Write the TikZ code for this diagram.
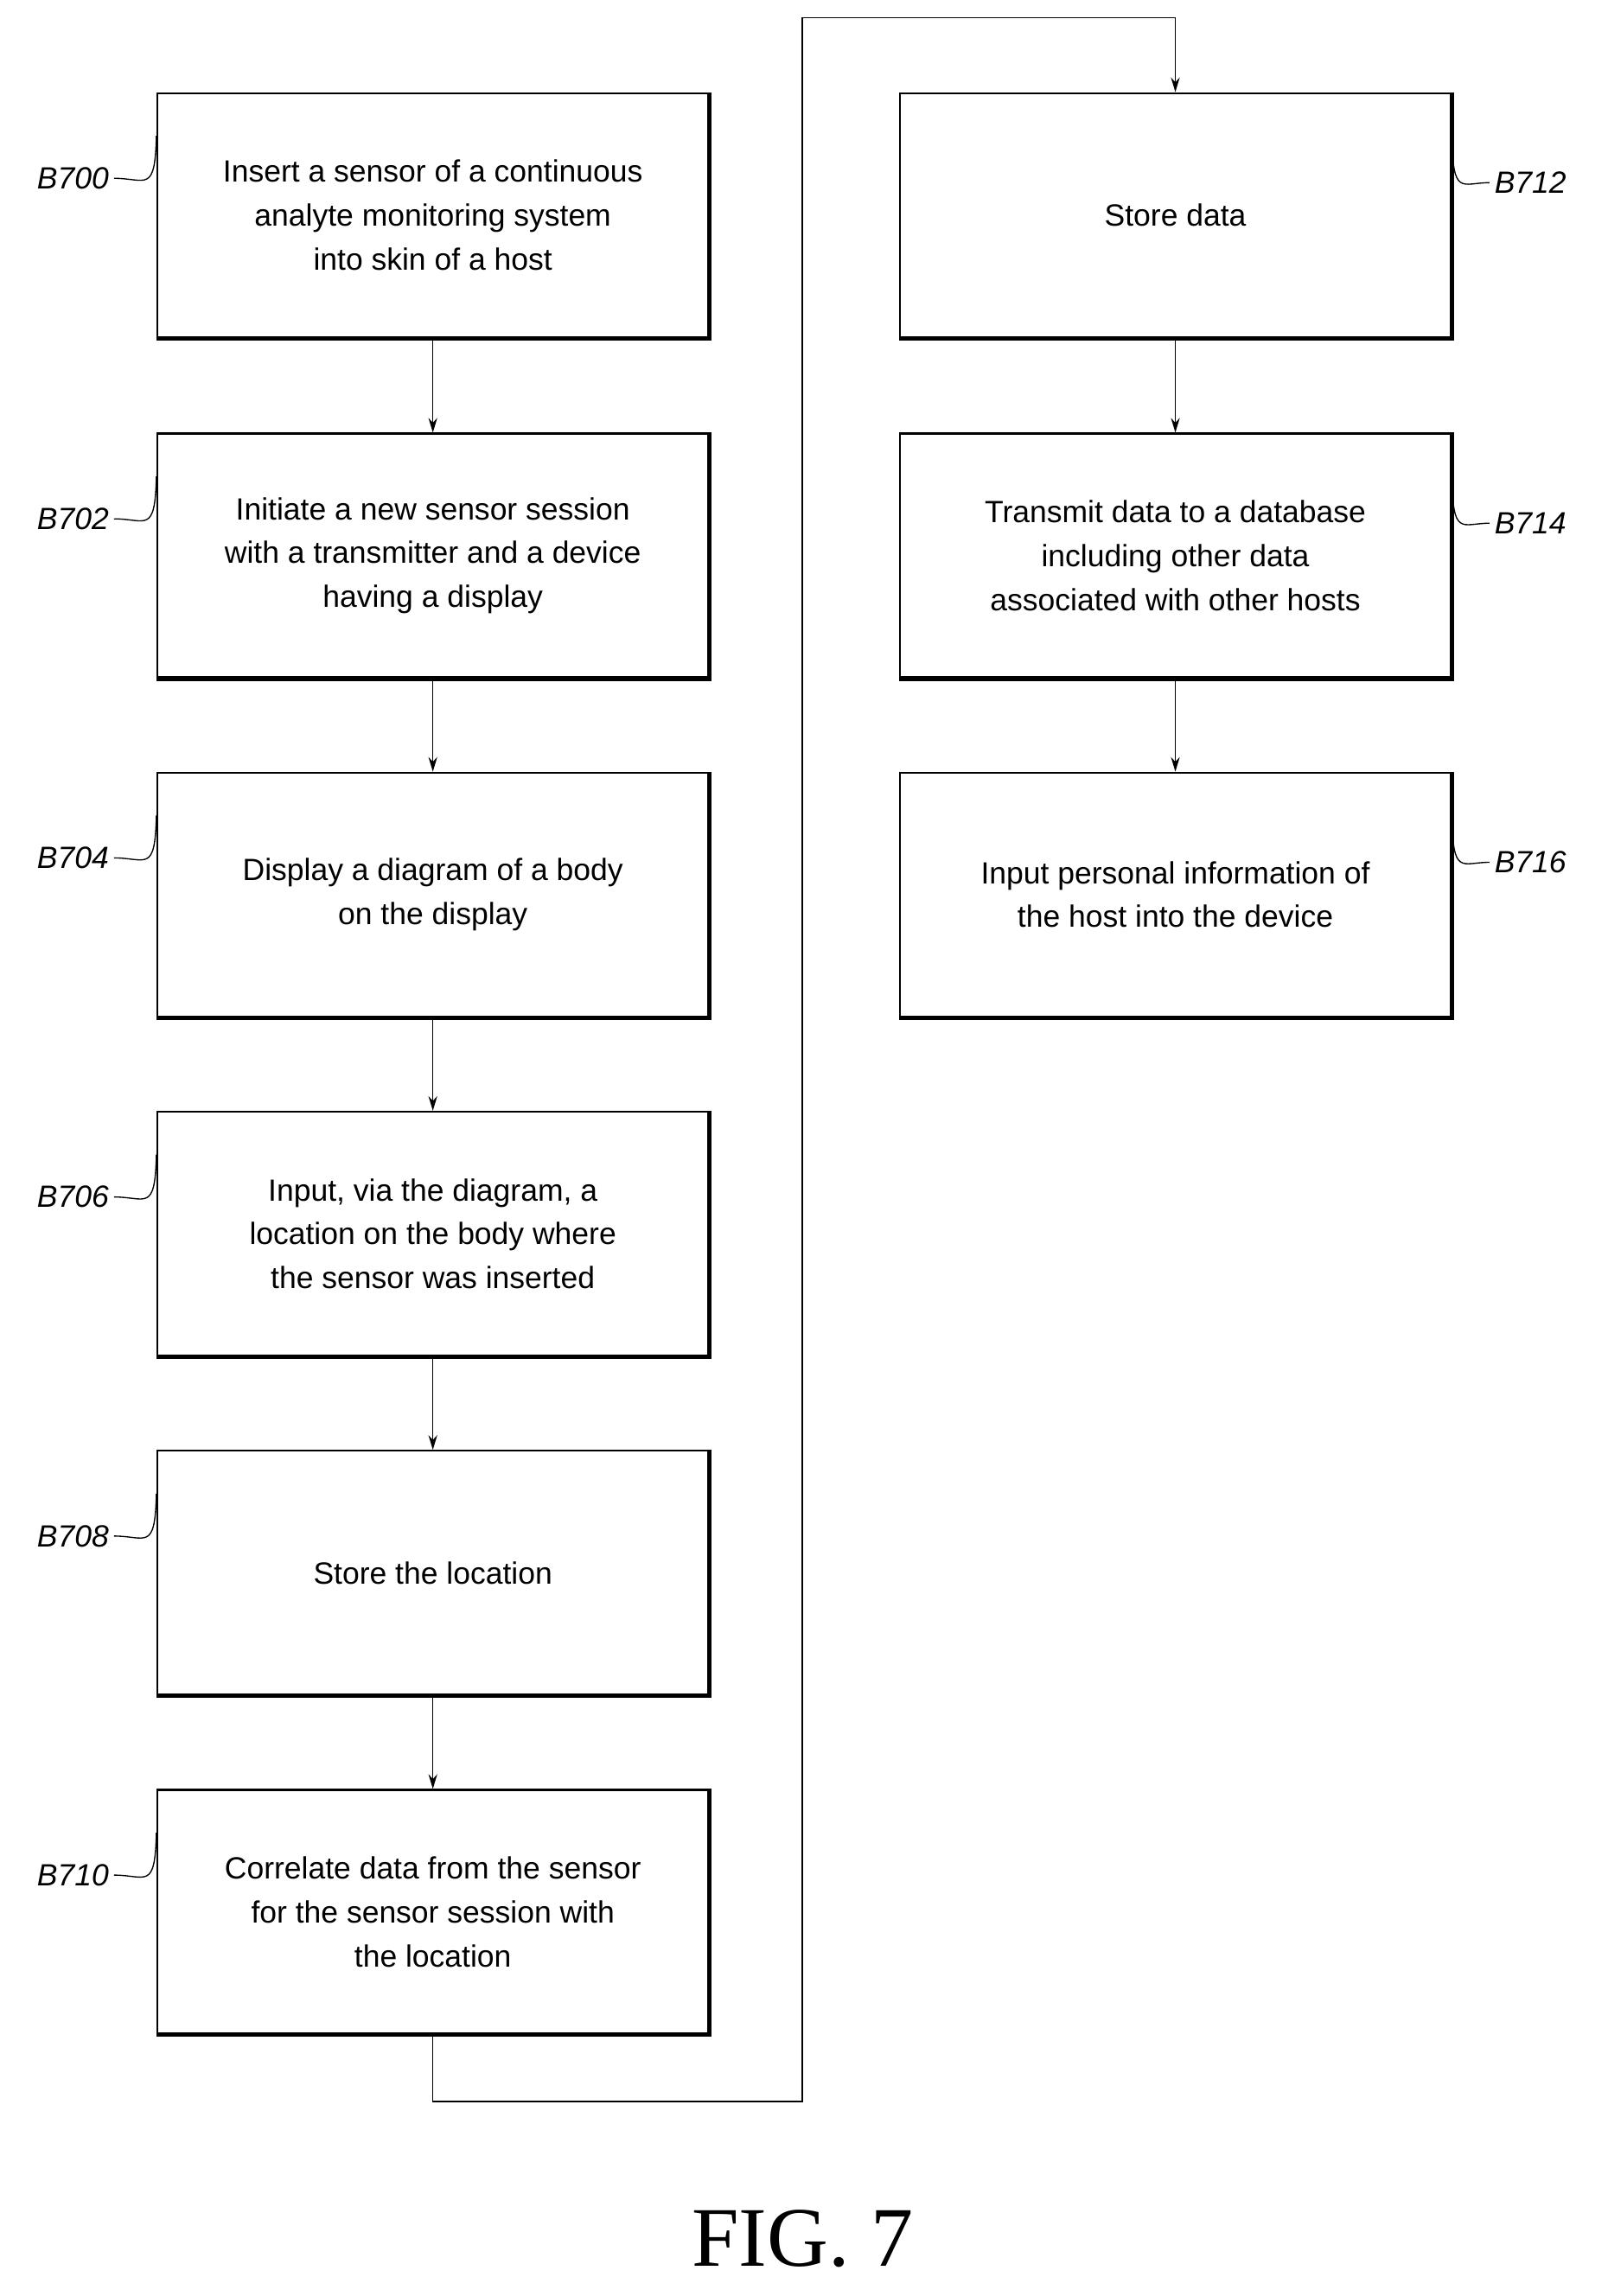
\documentclass[tikz,border=0pt]{standalone}
\usepackage{fontspec}
\setmainfont{Liberation Sans}
\newfontfamily\figfont{Liberation Serif}
\usetikzlibrary{arrows.meta}
\begin{document}
\begin{tikzpicture}[x=1pt,y=-1pt,
  box/.style={draw,line width=1.3pt,minimum width=377pt,minimum height=167pt,anchor=north west,inner sep=0pt,align=center,font=\fontsize{21}{30}\selectfont},
  lab/.style={font=\fontsize{21}{24}\selectfont\itshape},
  arr/.style={line width=0.9pt,-{Stealth[length=10pt,width=6pt]}},
  lead/.style={line width=0.8pt}]
\useasboundingbox (0,0) rectangle (1100,1571);
\def\Box#1#2#3#4{\node[box] (#1) at (#2,#3) {#4};
  \draw[line width=3pt] ([xshift=0pt]#1.south west)--(#1.south east)--(#1.north east);}
\Box{b700}{107}{63}{Insert a sensor of a continuous\\analyte monitoring system\\into skin of a host}
\Box{b702}{107}{296}{Initiate a new sensor session\\with a transmitter and a device\\having a display}
\Box{b704}{107}{528}{Display a diagram of a body\\on the display}
\Box{b706}{107}{760}{Input, via the diagram, a\\location on the body where\\the sensor was inserted}
\Box{b708}{107}{992}{Store the location}
\Box{b710}{107}{1224}{Correlate data from the sensor\\for the sensor session with\\the location}
\Box{b712}{615}{63}{Store data}
\Box{b714}{615}{296}{Transmit data to a database\\including other data\\associated with other hosts}
\Box{b716}{615}{528}{Input personal information of\\the host into the device}
\draw[arr] (b700)--(b702);
\draw[arr] (b702)--(b704);
\draw[arr] (b704)--(b706);
\draw[arr] (b706)--(b708);
\draw[arr] (b708)--(b710);
\draw[arr] (b712)--(b714);
\draw[arr] (b714)--(b716);
\coordinate (c1) at (549,1438);
\coordinate (c2) at (549,12);
\draw[arr] (b710.south) |- (c1) -- (c2) -| (b712.north);
% left labels
\foreach \n/\y in {b700/63,b702/296,b704/528,b706/760,b708/992,b710/1224}{
  \pgfmathtruncatemacro\num{700+2*(\y>63)*0}
}
\def\LL#1#2#3{\node[lab,anchor=east] (l#1) at (78,#2+59) {B#1};
  \draw[lead] (l#1.east) .. controls (100,#2+59) and (106,#2+70) .. ([yshift=-30pt]#3.north west);}
\LL{700}{63}{b700}
\LL{702}{296}{b702}
\LL{704}{528}{b704}
\LL{706}{760}{b706}
\LL{708}{992}{b708}
\LL{710}{1224}{b710}
\def\RL#1#2#3{\node[lab,anchor=west] (l#1) at (1019,#2+62) {B#1};
  \draw[lead] (l#1.west) .. controls (1000,#2+62) and (994,#2+72) .. ([yshift=-30pt]#3.north east);}
\RL{712}{63}{b712}
\RL{714}{296}{b714}
\RL{716}{528}{b716}
\node[font=\figfont\fontsize{58}{60}\selectfont] (fig) at (549,1532) {FIG. 7};
\end{tikzpicture}
\end{document}
